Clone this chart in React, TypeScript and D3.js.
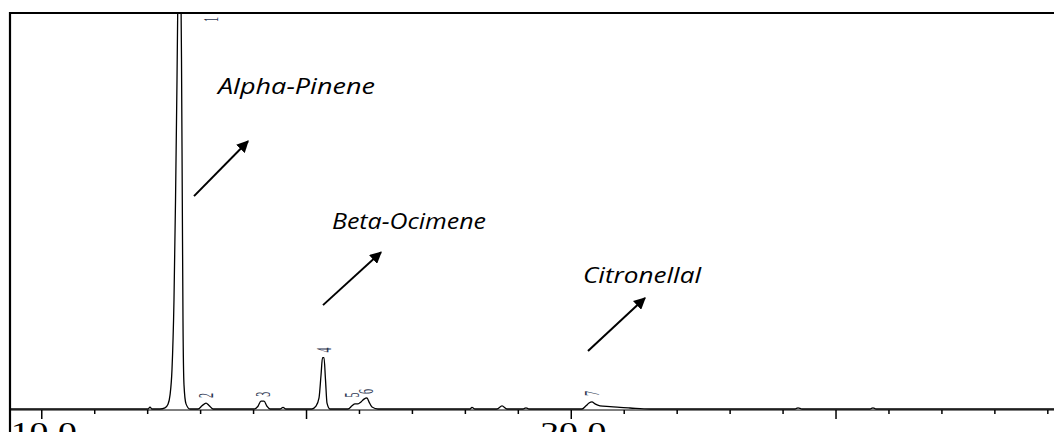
import React from "react";
import * as d3 from "d3";

// Chromatogram trace: [retention time (min), signal]
const trace: [number, number][] = [
  [9.4, 0], [12.006, 0], [12.044, 0.5], [12.082, 0], [12.233, 0], [12.327, 0.3],
  [12.384, 1.2], [12.422, 3.5], [12.459, 9.9], [12.497, 27.6], [12.526, 52.9],
  [12.554, 83.3], [12.582, 118.7], [12.601, 133.9], [12.62, 118.7], [12.639, 88.4],
  [12.654, 52.9], [12.667, 22.5], [12.686, 6.1], [12.724, 1.3], [12.799, 0],
  [12.951, 0], [13.026, 0.8], [13.102, 1.5], [13.158, 0.9], [13.234, 0],
  [14.008, 0], [14.084, 0.7], [14.14, 2.0], [14.197, 2.0], [14.254, 0.7], [14.31, 0],
  [14.499, 0], [14.556, 0.4], [14.612, 0],
  [15.103, 0], [15.179, 0.7], [15.236, 2.8], [15.274, 8.6], [15.302, 13.0],
  [15.33, 13.0], [15.358, 7.5], [15.387, 1.5], [15.443, 0],
  [15.783, 0], [15.859, 0.8], [15.915, 1.3], [15.972, 1.3], [16.029, 1.8],
  [16.086, 2.5], [16.142, 2.8], [16.18, 1.8], [16.237, 0.5], [16.35, 0],
  [18.087, 0], [18.125, 0.4], [18.182, 0], [18.597, 0], [18.692, 0.8], [18.786, 0],
  [19.088, 0], [19.145, 0.3], [19.202, 0],
  [20.203, 0], [20.278, 0.8], [20.335, 1.5], [20.391, 1.8], [20.448, 1.3],
  [20.543, 0.8], [20.731, 0.6], [20.92, 0.4], [21.109, 0.25], [21.487, 0],
  [24.225, 0], [24.282, 0.3], [24.357, 0], [25.642, 0], [25.698, 0.3], [25.755, 0],
  [29.2, 0],
];

// Peak number labels: [label, time, signal at label base]
const peakLabels: [string, number, number][] = [
  ["1", 13.18, 97.5],
  ["2", 13.102, 2.3],
  ["3", 14.17, 2.6],
  ["4", 15.316, 13.8],
  ["5", 15.86, 2.4],
  ["6", 16.12, 3.3],
  ["7", 20.39, 2.8],
];

// Compound annotations: name, text anchor (time, signal), arrow from/to (time, signal)
const compoundNames = ["Alpha-Pinene", "Beta-Ocimene", "Citronellal"];
const textTimes = [13.328, 15.481, 20.222];
const textSignals = [79.7, 45.6, 31.9];
const textWidths = [157, 154, 118];
const arrowFrom: [number, number][] = [[12.875, 53.9], [15.311, 26.3], [20.316, 14.7]];
const arrowTo: [number, number][] = [[13.895, 67.8], [16.407, 39.7], [21.392, 28.1]];

const majorTicks = [10, 15, 20, 25];
const minorTicks = d3.range(10, 30, 1).filter((d) => d % 5 !== 0);
const tickLabels: [number, string][] = [[10, "10.0"], [20, "20.0"]];

const W = 1054;
const H = 432;
const left = 10;
const top = 13;
const baseY = 409;

export default function App() {
  const x = d3.scaleLinear().domain([9.4, 9.4 + (W - left) / 52.95]).range([left, W]);
  const y = d3.scaleLinear().domain([0, 100]).range([baseY, baseY - 395]);
  const line = d3
    .line<[number, number]>()
    .x((d) => x(d[0]))
    .y((d) => y(d[1]))
    .curve(d3.curveMonotoneX);

  return (
    <svg
      width={W}
      height={H}
      style={{ position: "absolute", left: 0, top: 0, background: "#fff" }}
    >
      <defs>
        <clipPath id="plot">
          <rect x={left} y={top} width={W - left} height={baseY - top + 2} />
        </clipPath>
        <marker
          id="arrow"
          viewBox="0 0 10 10"
          refX="9"
          refY="5"
          markerWidth="12"
          markerHeight="12"
          markerUnits="userSpaceOnUse"
          orient="auto"
        >
          <path d="M0,0 L10,5 L0,10 z" fill="#000" />
        </marker>
      </defs>
      <rect x={0} y={0} width={W} height={H} fill="#fff" />

      {/* trace */}
      <g clipPath="url(#plot)">
        <path d={line(trace) || ""} fill="none" stroke="#000" strokeWidth={1.3} />
      </g>

      {/* axis */}
      <line x1={left} x2={W} y1={baseY + 1} y2={baseY + 1} stroke="#000" strokeWidth={1.2} />
      {majorTicks.map((t) => (
        <line key={"M" + t} x1={x(t)} x2={x(t)} y1={baseY + 1} y2={baseY + 10} stroke="#000" strokeWidth={1.5} />
      ))}
      {minorTicks.map((t) => (
        <line key={"m" + t} x1={x(t)} x2={x(t)} y1={baseY + 1} y2={baseY + 5} stroke="#000" strokeWidth={1.5} />
      ))}
      {tickLabels.map(([t, s]) => (
        <text
          key={s}
          x={x(t) + 2}
          y={441}
          textAnchor="middle"
          fontFamily="Liberation Serif"
          fontSize={28}
          textLength={66}
          lengthAdjust="spacingAndGlyphs"
          fill="#000"
        >
          {s}
        </text>
      ))}

      {/* frame */}
      <line x1={left} x2={W} y1={top} y2={top} stroke="#000" strokeWidth={2.2} />
      <line x1={left} x2={left} y1={top - 1} y2={H} stroke="#000" strokeWidth={2.2} />

      {/* peak labels */}
      {peakLabels.map(([s, t, v]) => (
        <text
          key={"p" + s}
          transform={`translate(${x(t)},${y(v) - 2}) scale(2.1,1) rotate(-90)`}
          fontFamily="Liberation Serif"
          fontSize={10}
          dy="0.35em"
          fill="#2b3450"
        >
          {s}
        </text>
      ))}

      {/* annotations */}
      {compoundNames.map((n, i) => (
        <g key={n}>
          <text
            x={x(textTimes[i])}
            y={y(textSignals[i])}
            fontFamily="Open Sans"
            fontStyle="italic"
            fontSize={22.5}
            textLength={textWidths[i]}
            lengthAdjust="spacingAndGlyphs"
            fill="#000"
          >
            {n}
          </text>
          <line
            x1={x(arrowFrom[i][0])}
            y1={y(arrowFrom[i][1])}
            x2={x(arrowTo[i][0])}
            y2={y(arrowTo[i][1])}
            stroke="#000"
            strokeWidth={2}
            markerEnd="url(#arrow)"
          />
        </g>
      ))}
    </svg>
  );
}
